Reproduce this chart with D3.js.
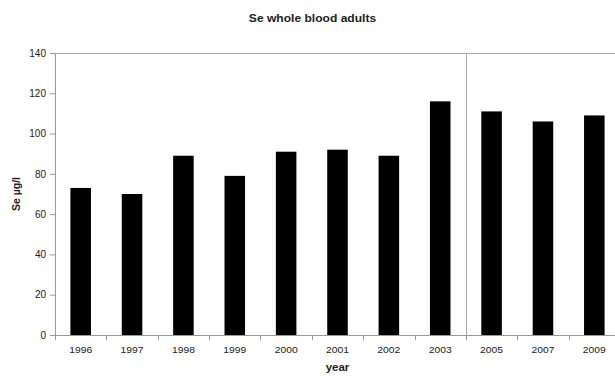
<!DOCTYPE html>
<html>
<head>
  <meta charset="utf-8" />
  <title>Se whole blood adults</title>
  <style>
    body { margin: 0; background: #fff; }
    svg text { font-family: "Liberation Sans", Arial, sans-serif; fill: #222; }
  </style>
  <script src="https://cdnjs.cloudflare.com/ajax/libs/d3/7.8.5/d3.min.js"></script>
</head>
<body>
  <div id="chart"></div>
  <script>
    var years = ['1996', '1997', '1998', '1999', '2000', '2001', '2002', '2003', '2005', '2007', '2009'];
    var seValues = [73, 70, 89, 79, 91, 92, 89, 116, 111, 106, 109];
    var yTicks = [0, 20, 40, 60, 80, 100, 120, 140];
    var dividerAfter = '2003';

    var w = 615, h = 376;
    // note: "top" is reserved on window, so use plot* names
    var plotLeft = 55, plotRight = 620, plotTop = 53, plotBottom = 335;
    var stretch = 1.15; // the original picture is a bit wider than tall

    var svg = d3.select('#chart').append('svg')
      .attr('width', w)
      .attr('height', h);

    var x = d3.scaleBand()
      .domain(years)
      .range([plotLeft, plotRight])
      .paddingInner(0.6)
      .paddingOuter(0.3);

    var y = d3.scaleLinear()
      .domain([0, 140])
      .range([plotBottom, plotTop]);

    var bandW = (plotRight - plotLeft) / years.length;

    // plot frame top line
    svg.append('line')
      .attr('x1', plotLeft).attr('x2', w)
      .attr('y1', plotTop + 0.5).attr('y2', plotTop + 0.5)
      .attr('stroke', '#aaa');

    // divider between 2003 and 2005
    var divX = Math.round(plotLeft + (years.indexOf(dividerAfter) + 1) * bandW) + 0.5;
    svg.append('line')
      .attr('x1', divX).attr('x2', divX)
      .attr('y1', plotTop).attr('y2', plotBottom)
      .attr('stroke', '#aaa');

    // bars
    svg.selectAll('rect.bar')
      .data(seValues)
      .enter()
      .append('rect')
      .attr('class', 'bar')
      .attr('x', (d, i) => x(years[i]))
      .attr('y', d => y(d))
      .attr('width', x.bandwidth())
      .attr('height', d => plotBottom - y(d))
      .attr('fill', '#000');

    // y axis
    var yAxis = svg.append('g')
      .attr('transform', 'translate(' + plotLeft + ',0)')
      .call(d3.axisLeft(y).tickValues(yTicks).tickSize(5).tickPadding(4));
    yAxis.selectAll('path, line').attr('stroke', '#999');
    yAxis.selectAll('text').attr('font-size', 10).style('fill', '#222');
    yAxis.select('.domain').attr('d', 'M0.5,' + plotTop + 'V' + plotBottom);

    // x axis with ticks at category boundaries
    var xAxis = svg.append('g');
    xAxis.append('line')
      .attr('x1', plotLeft).attr('x2', plotRight)
      .attr('y1', plotBottom + 0.5).attr('y2', plotBottom + 0.5)
      .attr('stroke', '#999');
    xAxis.selectAll('line.tick')
      .data(d3.range(years.length + 1))
      .enter()
      .append('line')
      .attr('class', 'tick')
      .attr('x1', i => Math.round(plotLeft + i * bandW) + 0.5)
      .attr('x2', i => Math.round(plotLeft + i * bandW) + 0.5)
      .attr('y1', plotBottom)
      .attr('y2', plotBottom + 5)
      .attr('stroke', '#999');
    xAxis.selectAll('text')
      .data(years)
      .enter()
      .append('text')
      .attr('transform', d => 'translate(' + (x(d) + x.bandwidth() / 2) + ',' + (plotBottom + 18) + ') scale(' + stretch + ',1)')
      .attr('text-anchor', 'middle')
      .attr('font-size', 9)
      .text(d => d);

    // titles
    svg.append('text')
      .attr('transform', 'translate(312.5,22) scale(' + stretch + ',1)')
      .attr('text-anchor', 'middle')
      .attr('font-size', 10.5).attr('font-weight', 'bold')
      .text('Se whole blood adults');

    svg.append('text')
      .attr('transform', 'translate(' + (plotLeft + plotRight) / 2 + ',371) scale(' + stretch + ',1)')
      .attr('text-anchor', 'middle')
      .attr('font-size', 10).attr('font-weight', 'bold')
      .text('year');

    svg.append('text')
      .attr('transform', 'translate(20,' + (plotTop + plotBottom) / 2 + ') rotate(-90)')
      .attr('text-anchor', 'middle')
      .attr('font-size', 10.5).attr('font-weight', 'bold')
      .text('Se µg/l');
  </script>
</body>
</html>
